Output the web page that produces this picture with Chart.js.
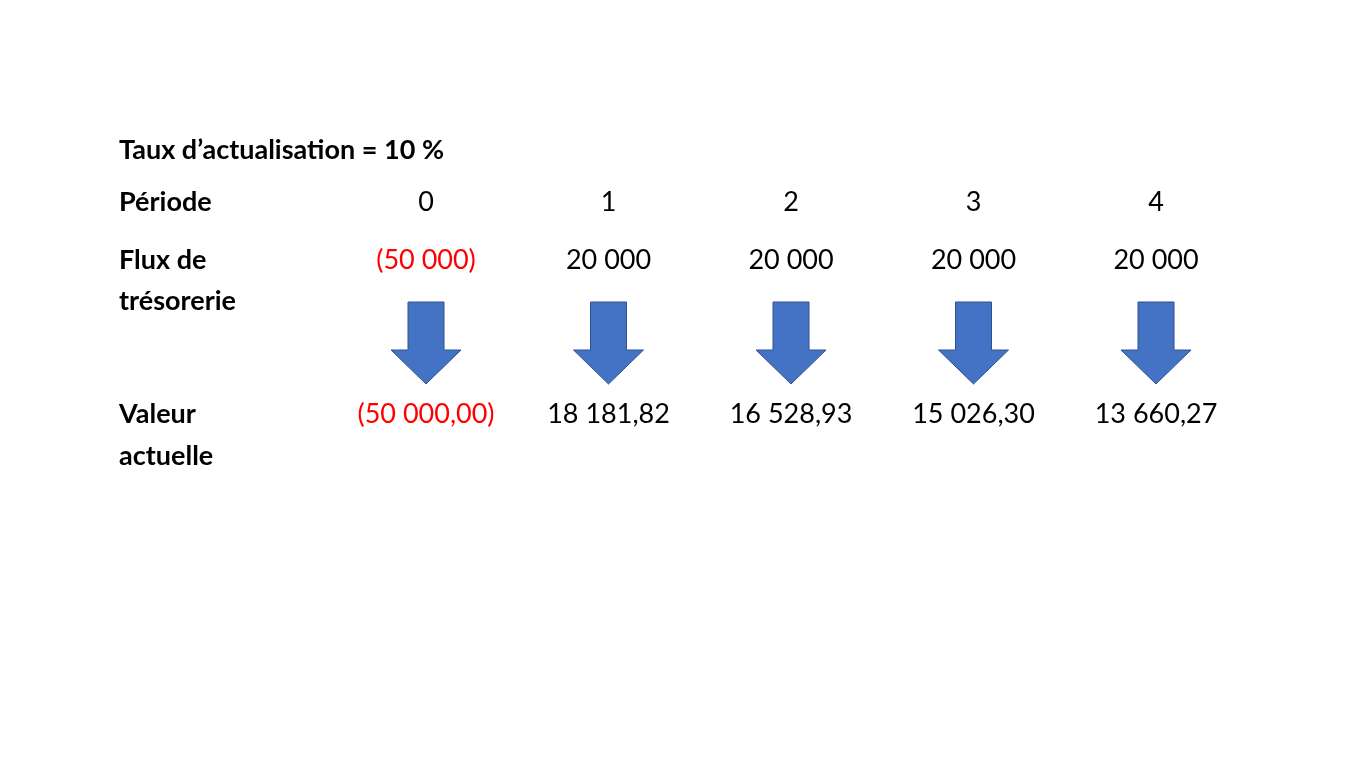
<!DOCTYPE html>
<html><head><meta charset="utf-8">
<script src="https://cdn.jsdelivr.net/npm/chart.js@4/dist/chart.umd.min.js"></script>
<style>html,body{margin:0;padding:0;background:#fff}#c{display:block}</style>
</head><body>
<div style="width:1365px;height:768px"><canvas id="c"></canvas></div>
<script>
const title = "Taux d’actualisation = 10 %";
const periods = [0, 1, 2, 3, 4];
const flowLabels = ["(50 000)", "20 000", "20 000", "20 000", "20 000"];
const presentValues = ["(50 000,00)", "18 181,82", "16 528,93", "15 026,30", "13 660,27"];
const rowLabels = [["Période"], ["Flux de", "trésorerie"], ["Valeur", "actuelle"]];
const negative = [true, false, false, false, false];

const FONT = "Lato, 'Open Sans', sans-serif";
const plugin = {
  id: 'slide',
  afterDatasetsDraw(chart) {
    const ctx = chart.ctx, xs = chart.scales.x, ys = chart.scales.y;
    ctx.save();
    ctx.textBaseline = 'middle';
    const labelX = xs.getPixelForValue(-1.682);
    ctx.fillStyle = '#000';
    ctx.font = "bold 27px " + FONT;
    ctx.textAlign = 'left';
    ctx.fillText(title, labelX, ys.getPixelForValue(150));
    const rowY = [[202], [260, 301], [414, 456]];
    rowLabels.forEach((lines, r) => lines.forEach((t, i) => ctx.fillText(t, labelX, ys.getPixelForValue(rowY[r][i]))));
    ctx.font = "27px " + FONT;
    ctx.textAlign = 'center';
    periods.forEach((p, i) => {
      const x = xs.getPixelForValue(p);
      ctx.fillStyle = '#000';
      ctx.fillText(String(p), x, ys.getPixelForValue(202));
      ctx.fillStyle = negative[i] ? '#FF0000' : '#000';
      ctx.fillText(flowLabels[i], x, ys.getPixelForValue(260));
      ctx.fillText(presentValues[i], x, ys.getPixelForValue(414));
      // arrow
      const t = ys.getPixelForValue(302), m = ys.getPixelForValue(350), b = ys.getPixelForValue(384);
      ctx.beginPath();
      ctx.moveTo(x - 18, t); ctx.lineTo(x + 18, t); ctx.lineTo(x + 18, m); ctx.lineTo(x + 35, m);
      ctx.lineTo(x, b); ctx.lineTo(x - 35, m); ctx.lineTo(x - 18, m); ctx.closePath();
      ctx.fillStyle = '#4472C4'; ctx.fill();
      ctx.strokeStyle = '#2F528F'; ctx.lineWidth = 1; ctx.stroke();
    });
    ctx.restore();
  }
};
new Chart(document.getElementById('c'), {
  type: 'scatter',
  data: { datasets: [{ data: periods.map(p => ({x: p, y: 350})), pointRadius: 0 }] },
  options: {
    responsive: true, maintainAspectRatio: false, animation: false,
    layout: { padding: 0 },
    plugins: { legend: { display: false }, tooltip: { enabled: false } },
    scales: {
      x: { type: 'linear', min: -426/182.5, max: 4 + 209/182.5, display: false },
      y: { type: 'linear', min: 0, max: 768, reverse: true, display: false }
    }
  },
  plugins: [plugin]
});
</script>
</body></html>
